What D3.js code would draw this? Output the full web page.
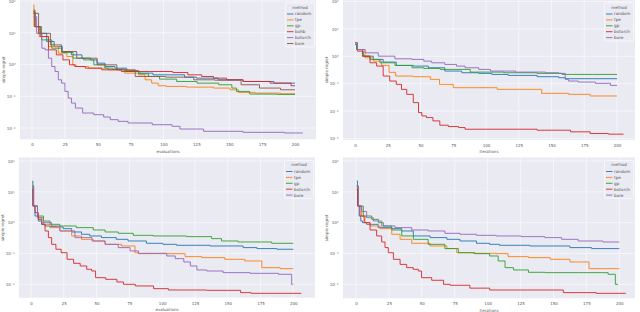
<!DOCTYPE html>
<html>
<head>
<meta charset="utf-8">
<script src="https://cdn.jsdelivr.net/npm/d3@7"></script>
<style>
  body { margin: 0; background: #fff; }
  text { font-family: "DejaVu Sans", sans-serif; }
</style>
</head>
<body>
<div id="chart"></div>
<script>
// ---- data: [evaluation, simple regret] ----
var xTicks = [0, 25, 50, 75, 100, 125, 150, 175, 200];
var yTicksA = [1e2, 1e1, 1e0, 1e-1, 1e-2];
var yTicksB = [1e2, 1e1, 1e0, 1e-1, 1e-2, 1e-3];

var methods6 = ["random", "tpe", "gp", "bohb", "botorch", "bore"];
var methods5 = ["random", "tpe", "gp", "botorch", "bore"];
var xLabels = ["evaluations", "iterations", "evaluations", "iterations"];

// top left
var p1_random = [[1,41],[3.5,15.6],[8.6,9.6],[13.7,5.3],[20,3.67],[26,2.56],[34,2.01],[42,1.58],[47,1.40],[52,1.10],[59,0.865],[67,0.767],[77,0.602],[87,0.535],[97,0.473],[112,0.473],[120,0.40],[130,0.372],[153,0.33],[168,0.292],[200,0.259]];
var p1_tpe = [[1,75],[2,15.6],[9,7.6],[16,3.67],[24,2.27],[29,1.78],[33,0.977],[34,0.865],[52,0.767],[64,0.68],[77,0.535],[85,0.473],[87,0.33],[95,0.259],[97,0.214],[107,0.204],[128,0.194],[148,0.181],[153,0.16],[161,0.132],[178,0.126],[200,0.12]];
var p1_gp = [[1,52],[3.5,15.6],[11,5.96],[19,3.26],[26,2.38],[36.5,1.58],[42,1.40],[52,0.977],[59,0.767],[64,0.713],[77,0.648],[85,0.509],[92,0.42],[102,0.346],[118,0.292],[133,0.259],[151,0.23],[153,0.181],[158,0.142],[173,0.117],[200,0.114]];
var p1_bohb = [[1,46],[3.5,15.6],[9,7.6],[16,2.89],[21,2.01],[26,1.40],[31,0.977],[34,0.865],[47,0.767],[59,0.68],[77,0.602],[102,0.602],[112,0.561],[125,0.473],[133,0.42],[143,0.372],[153,0.33],[168,0.292],[194,0.259],[200,0.214]];
var p1_botorch = [[1,32],[6,9.6],[9,3.26],[11,2.89],[14,1.58],[16,0.865],[19,0.602],[21,0.33],[24,0.259],[26,0.142],[29,0.0875],[31,0.061],[35,0.0425],[42,0.0296],[52,0.0262],[57,0.0222],[62,0.0183],[69,0.0162],[77,0.0144],[106,0.0127],[107,0.0113],[118,0.0093],[143,0.00786],[178,0.00731],[206,0.00697]];
var p1_bore = [[1,41],[9,9.6],[19,4.15],[26,2.56],[42,1.58],[57,0.977],[72,0.68],[85,0.42],[118,0.40],[128,0.33],[150,0.32],[168,0.23],[178,0.181],[200,0.16]];

// top right
var p2_random = [[0,2.69],[2.5,1.77],[8.9,1.01],[19,0.77],[24,0.614],[39,0.464],[50,0.439],[62,0.382],[75,0.289],[88,0.251],[101,0.238],[108,0.218],[126,0.201],[152,0.18],[159,0.165],[162,0.152],[200,0.152]];
var p2_tpe = [[0,3.10],[3.8,1.77],[11.5,0.88],[16.6,0.667],[24,0.464],[28,0.26],[34,0.19],[55,0.18],[60,0.144],[69,0.0946],[81,0.0716],[136,0.0622],[149,0.0445],[177,0.0409],[182,0.0356],[200,0.0356]];
var p2_gp = [[0,2.69],[2.5,1.77],[8.9,1.01],[14,0.77],[24,0.58],[37,0.464],[50,0.382],[55,0.361],[75,0.332],[101,0.265],[126,0.251],[152,0.238],[164,0.218],[200,0.218]];
var p2_botorch = [[0,3.10],[3.8,1.54],[8.9,1.01],[14,0.58],[19,0.439],[24,0.19],[29,0.125],[34,0.0946],[37,0.0622],[42,0.0409],[47,0.0204],[50,0.00881],[52,0.00667],[57,0.0058],[62,0.00439],[67.5,0.00305],[75,0.00273],[83,0.00251],[85,0.00218],[126,0.00218],[152,0.00201],[177,0.00175],[182,0.00152],[205,0.00144]];
var p2_bore = [[0,3.10],[3.8,1.77],[11.5,1.34],[24,1.01],[37,0.81],[50,0.77],[55,0.667],[62,0.58],[75,0.505],[80,0.439],[88,0.382],[101,0.332],[106,0.289],[139,0.265],[152,0.251],[159,0.238],[162,0.144],[164,0.125],[177,0.115],[190,0.103],[200,0.087]];

// bottom left
var p3_random = [[1,22.4],[1.8,3.47],[4.3,1.64],[6.9,1.13],[9.4,0.883],[12,0.78],[17,0.741],[22,0.723],[27,0.638],[35,0.498],[42,0.419],[47.5,0.37],[60,0.327],[70,0.288],[78,0.254],[98,0.214],[103,0.198],[119,0.184],[154,0.175],[169.5,0.155],[175,0.144],[200,0.137]];
var p3_tpe = [[1,15.5],[3,3.47],[6.9,1.45],[12,0.883],[17,0.689],[27,0.537],[35,0.37],[42,0.288],[53,0.254],[60,0.198],[78,0.175],[80.6,0.106],[83,0.0988],[116,0.0988],[119,0.0789],[141.5,0.0733],[154,0.0647],[172,0.0571],[180,0.0347],[200,0.0322]];
var p3_gp = [[1,15.5],[3,3.47],[6.9,1.64],[12,1.13],[17,0.883],[27,0.78],[42,0.689],[53,0.578],[60,0.498],[73,0.451],[83,0.388],[103,0.37],[134,0.352],[141.5,0.303],[149,0.254],[167,0.236],[200,0.214]];
var p3_botorch = [[1,12.0],[1.8,3.47],[4.3,2.11],[6.9,1.28],[9.4,0.883],[12,0.537],[14.5,0.327],[17,0.198],[21,0.137],[25,0.106],[30,0.0647],[35,0.048],[40,0.0393],[45,0.0306],[47.5,0.027],[51,0.0164],[63,0.0145],[68,0.0119],[73,0.01],[86,0.00883],[101,0.00723],[108.5,0.00654],[159,0.00638],[160.6,0.00537],[175,0.0051],[206,0.0051]];
var p3_bore = [[1,13.6],[3,3.47],[6.9,1.45],[9.4,1.0],[14.5,1.0],[17,0.78],[27,0.537],[40,0.327],[53,0.254],[60,0.198],[73,0.155],[78,0.121],[86,0.101],[101,0.101],[106,0.083],[114,0.068],[119,0.053],[124,0.0393],[129,0.0292],[139,0.027],[154,0.0239],[180,0.0227],[197.5,0.0211],[200,0.01]];

// bottom right
var p4_random = [[0.5,22.4],[1.8,3.47],[3,1.64],[4.3,1.13],[5.6,1.0],[10.6,0.883],[23,0.689],[31,0.638],[38.5,0.537],[48.6,0.37],[64,0.327],[74,0.288],[84,0.254],[99,0.214],[104,0.198],[114,0.184],[150,0.175],[175,0.155],[183,0.144],[200,0.144]];
var p4_tpe = [[0.5,13.6],[3,3.47],[5.6,1.64],[8.1,1.0],[13.2,0.78],[23.3,0.638],[31,0.419],[36,0.288],[48.6,0.214],[64,0.175],[74,0.144],[79,0.106],[99,0.101],[114,0.0988],[117,0.0789],[145,0.0733],[150,0.0647],[175,0.053],[179,0.0322],[200,0.0322]];
var p4_gp = [[0.5,15.5],[3,3.47],[8.1,1.64],[15.7,1.28],[18.2,1.0],[23.3,0.78],[31,0.578],[38.5,0.37],[48.6,0.288],[61,0.198],[74,0.144],[81.5,0.106],[99,0.0988],[104,0.083],[112,0.0571],[114.4,0.0347],[125,0.0292],[137,0.0245],[150,0.0239],[188,0.0239],[195,0.0211],[199,0.01]];
var p4_botorch = [[0.5,12.0],[1.8,3.47],[4.3,1.64],[8.1,1.0],[13.2,0.578],[18.2,0.37],[20.8,0.236],[23.3,0.155],[25.8,0.106],[31,0.0647],[36,0.0443],[41,0.0347],[46,0.0306],[48.6,0.027],[51,0.0164],[64,0.0135],[69,0.01],[74,0.0093],[99,0.0075],[104,0.00654],[155,0.00654],[160,0.00537],[205,0.0051]];
var p4_bore = [[0.5,15.5],[3,3.47],[5.6,2.3],[10.6,1.45],[15.7,1.13],[23.3,0.78],[36,0.689],[48.6,0.578],[61,0.537],[74,0.451],[84,0.419],[99,0.388],[114,0.37],[137,0.352],[150,0.327],[162.5,0.288],[175,0.254],[200,0.236]];

// ---- layout ----
var width = 640, height = 312;
var colors = ["#1f77b4", "#ff7f0e", "#2ca02c", "#d62728", "#9467bd", "#8c564b"];

var svg = d3.select('#chart').append('svg')
            .attr('width', width)
            .attr('height', height);

// plot rect, pixel spots of x=0/200 and of the top/bottom y tick
var panels = [
  {rect: [20, 0, 316, 139.3], xr: [32, 295], yt: yTicksA, yr: [1, 128],
   names: methods6, series: [p1_random, p1_tpe, p1_gp, p1_bohb, p1_botorch, p1_bore], xlabel: xLabels[0]},
  {rect: [343, 0, 635, 140], xr: [355, 617], yt: yTicksB, yr: [1.5, 138.5],
   names: methods5, series: [p2_random, p2_tpe, p2_gp, p2_botorch, p2_bore], xlabel: xLabels[1]},
  {rect: [19, 157.5, 315, 297.7], xr: [31, 293.3], yt: yTicksA, yr: [161, 284.3],
   names: methods5, series: [p3_random, p3_tpe, p3_gp, p3_botorch, p3_bore], xlabel: xLabels[2]},
  {rect: [343, 157.5, 635, 298.3], xr: [356, 619.3], yt: yTicksA, yr: [161, 284.3],
   names: methods5, series: [p4_random, p4_tpe, p4_gp, p4_botorch, p4_bore], xlabel: xLabels[3]}
];

var supMap = {"-": "\u207b", "0": "\u2070", "1": "\u00b9", "2": "\u00b2", "3": "\u00b3"};
function sup(v) {
  var e = String(Math.round(Math.log10(v)));
  return "10" + e.split("").map(c => supMap[c]).join("");
}

panels.forEach(function(p, k) {
  var [l, t, r, b] = p.rect;
  var g = svg.append('g');

  var x = d3.scaleLinear().domain([0, 200]).range(p.xr);
  var y = d3.scaleLog().domain([p.yt[0], p.yt[p.yt.length - 1]]).range(p.yr);

  g.append('rect').attr('x', l).attr('y', t).attr('width', r - l).attr('height', b - t)
    .attr('fill', '#eaeaf2');

  // grid (faint, as in the downscaled original)
  g.selectAll('.vg').data(xTicks).enter().append('line')
    .attr('x1', d => x(d)).attr('x2', d => x(d)).attr('y1', t).attr('y2', b)
    .attr('stroke', '#fff').attr('stroke-width', 0.7).attr('stroke-opacity', 0.75);
  g.selectAll('.hg').data(p.yt).enter().append('line')
    .attr('x1', l).attr('x2', r).attr('y1', d => y(d)).attr('y2', d => y(d))
    .attr('stroke', '#fff').attr('stroke-width', 0.7).attr('stroke-opacity', 0.75);

  // axes
  var ax = g.append('g').attr('transform', 'translate(0,' + b + ')')
    .call(d3.axisBottom(x).tickValues(xTicks).tickSize(0).tickPadding(4));
  var ay = g.append('g').attr('transform', 'translate(' + l + ',0)')
    .call(d3.axisLeft(y).tickValues(p.yt).tickFormat(sup).tickSize(0).tickPadding(4.5));
  [ax, ay].forEach(a => {
    a.select('.domain').remove();
    a.selectAll('text').attr('font-size', 4).attr('fill', '#555').style('font-family', '"DejaVu Sans"');
  });

  g.append('text').attr('x', (l + r) / 2).attr('y', b + 13.2)
    .attr('text-anchor', 'middle').attr('font-size', 4).attr('fill', '#555')
    .text(p.xlabel);
  g.append('text')
    .attr('transform', 'translate(' + (l - 15) + ',' + ((t + b) / 2) + ') rotate(-90)')
    .attr('text-anchor', 'middle').attr('font-size', 4).attr('fill', '#555')
    .text('simple regret');

  // lines
  var clipId = 'clip' + k;
  g.append('clipPath').attr('id', clipId).append('rect')
    .attr('x', l).attr('y', t).attr('width', r - l).attr('height', b - t);
  var line = d3.line().x(d => x(d[0])).y(d => y(d[1])).curve(d3.curveStep);
  g.append('g').attr('clip-path', 'url(#' + clipId + ')')
    .selectAll('path').data(p.series).enter().append('path')
    .attr('d', line)
    .attr('fill', 'none')
    .attr('stroke', (d, i) => colors[i])
    .attr('stroke-width', 0.9);

  // legend
  var lw = 29, lh = 8.5 + p.names.length * 5.9;
  var lg = g.append('g').attr('transform', 'translate(' + (r - lw - 1.5) + ',' + (t + 3) + ')');
  lg.append('rect').attr('width', lw).attr('height', lh).attr('rx', 1)
    .attr('fill', '#eaeaf2').attr('fill-opacity', 0.8)
    .attr('stroke', '#fff').attr('stroke-width', 0.6);
  lg.append('text').attr('x', lw / 2).attr('y', 5.5).attr('text-anchor', 'middle')
    .attr('font-size', 4).attr('fill', '#555').text('method');
  var it = lg.selectAll('.it').data(p.names).enter().append('g')
    .attr('transform', (d, i) => 'translate(0,' + (11 + i * 5.9) + ')');
  it.append('line').attr('x1', 1.5).attr('x2', 8).attr('stroke', (d, i) => colors[i]).attr('stroke-width', 0.9);
  it.append('text').attr('x', 9.5).attr('y', 1.4).attr('font-size', 4.2).attr('fill', '#555').text(d => d);
});
</script>
</body>
</html>
